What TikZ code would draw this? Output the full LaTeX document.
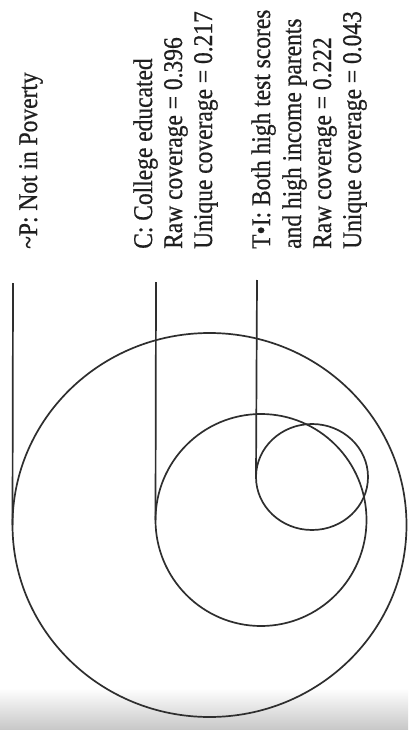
\documentclass[tikz,border=0pt]{standalone}
\usepackage{fontspec}
\usetikzlibrary{shapes.geometric}
\setmainfont{Liberation Serif}[FakeStretch=0.87, FakeBold=0.6]
\begin{document}
\begin{tikzpicture}[x=1pt,y=-1pt,
  ink/.style={draw=black!82, line width=1.7pt},
  setshape/.style={ellipse, ink, inner sep=0pt, outer sep=0pt},
  lab/.style={rotate=90, anchor=base west, inner sep=0pt, text=black!88,
    font=\fontsize{27}{30}\selectfont}]
\useasboundingbox (0,0) rectangle (408,730);
\fill[white] (0,0) rectangle (408,730);
\shade[top color=white, bottom color=black!22] (0,688) rectangle (408,730);
% sets
\node[setshape, minimum width=394pt, minimum height=384pt] (P) at (209.5,525) {};
\node[setshape, minimum width=211pt, minimum height=212pt] (C) at (261,520) {};
\node[setshape, minimum width=112pt, minimum height=106pt] (T) at (312,477) {};
% leader tops
\coordinate (pt) at (13,283);
\coordinate (ct) at (156,282);
\coordinate (tt) at (257,280);
\draw[ink] (pt) -- (P.west);
\draw[ink] (ct) -- (C.west);
\draw[ink] (tt) -- (T.west);
% labels
\node[lab] (p1) at (37,249) {\textasciitilde P: Not in Poverty};
\node[lab] (c1) at (152,249) {C: College educated};
\node[lab] (c2) at (182,249) {Raw coverage = 0.396};
\node[lab] (c3) at (212,249) {Unique coverage = 0.217};
\node[lab] (t1) at (270,249) {T\textbullet I: Both high test scores};
\node[lab] (t2) at (301,249) {and high income parents};
\node[lab] (t3) at (331,249) {Raw coverage = 0.222};
\node[lab] (t4) at (361,249) {Unique coverage = 0.043};
\end{tikzpicture}
\end{document}
